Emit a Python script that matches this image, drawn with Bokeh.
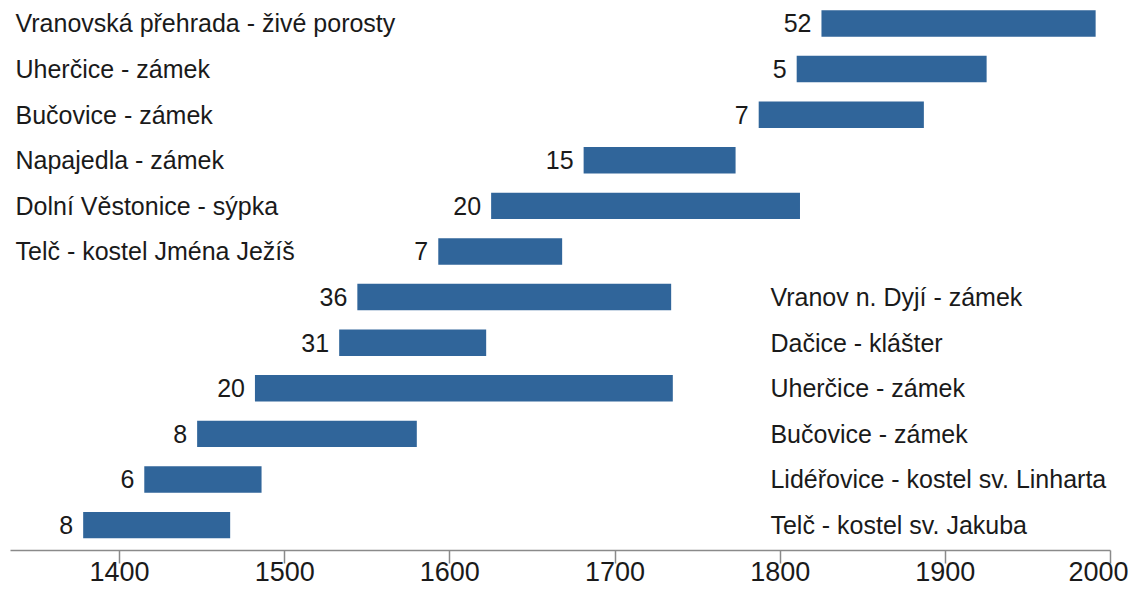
from bokeh.plotting import figure
from bokeh.models import Range1d, ColumnDataSource, FixedTicker
from bokeh.embed import file_html
from bokeh.resources import INLINE
from bokeh.core.properties import value

# ---- data (top row first) ----
names = [
    "Vranovská přehrada - živé porosty",
    "Uherčice - zámek",
    "Bučovice - zámek",
    "Napajedla - zámek",
    "Dolní Věstonice - sýpka",
    "Telč - kostel Jména Ježíš",
    "Vranov n. Dyjí - zámek",
    "Dačice - klášter",
    "Uherčice - zámek",
    "Bučovice - zámek",
    "Lidéřovice - kostel sv. Linharta",
    "Telč - kostel sv. Jakuba",
]
starts = [1825, 1810, 1787, 1681, 1625, 1593, 1544, 1533, 1482, 1447, 1415, 1378]
ends = [1991, 1925, 1887, 1773, 1812, 1668, 1734, 1622, 1735, 1580, 1486, 1467]
counts = [52, 5, 7, 15, 20, 7, 36, 31, 20, 8, 6, 8]
label_side = ["left"] * 6 + ["right"] * 6
year_ticks = [1400, 1500, 1600, 1700, 1800, 1900, 2000]

FONT = "Liberation Sans"
BAR = "#30659a"
TXT = "#1a1a1a"

n = len(names)
rows = [n - 1 - i for i in range(n)]

src = ColumnDataSource(dict(
    y=rows, left=starts, right=ends,
    cnt=[str(c) for c in counts], name=names,
))

X0, X1 = 1334, 2000
p = figure(width=1128, height=587, output_backend="svg", toolbar_location=None,
           x_range=Range1d(X0, X1), y_range=Range1d(-0.557, 11.504),
           min_border_left=10, min_border_right=18, min_border_top=0, min_border_bottom=37)
p.outline_line_color = None
p.background_fill_color = "white"
p.border_fill_color = "white"
p.xgrid.visible = False
p.ygrid.visible = False
p.yaxis.visible = False

p.hbar(y="y", left="left", right="right", height=0.58, source=src,
       fill_color=BAR, line_color=None)

p.text(x="left", y="y", text="cnt", source=src, x_offset=-10,
       text_align="right", text_baseline="middle",
       text_font=value(FONT), text_font_size="25px", text_color=TXT)

left_idx = [i for i in range(n) if label_side[i] == "left"]
right_idx = [i for i in range(n) if label_side[i] == "right"]
lsrc = ColumnDataSource(dict(y=[rows[i] for i in left_idx], name=[names[i] for i in left_idx],
                             x=[X0] * len(left_idx)))
rsrc = ColumnDataSource(dict(y=[rows[i] for i in right_idx], name=[names[i] for i in right_idx],
                             x=[1794.1] * len(right_idx)))
p.text(x="x", y="y", text="name", source=lsrc, x_offset=5,
       text_align="left", text_baseline="middle",
       text_font=value(FONT), text_font_size="25px", text_color=TXT)
p.text(x="x", y="y", text="name", source=rsrc,
       text_align="left", text_baseline="middle",
       text_font=value(FONT), text_font_size="25px", text_color=TXT)

ax = p.xaxis[0]
ax.ticker = FixedTicker(ticks=year_ticks)
ax.minor_tick_line_color = None
ax.major_tick_in = 0
ax.major_tick_out = 13
ax.axis_line_color = "#8a8a8a"
ax.axis_line_width = 1.5
ax.major_tick_line_color = "#8a8a8a"
ax.major_tick_line_width = 1.5
ax.major_label_standoff = -2
ax.major_label_text_font = FONT
ax.major_label_text_font_size = "27px"
ax.major_label_text_color = TXT

open("out.html", "w").write(file_html(p, INLINE))
